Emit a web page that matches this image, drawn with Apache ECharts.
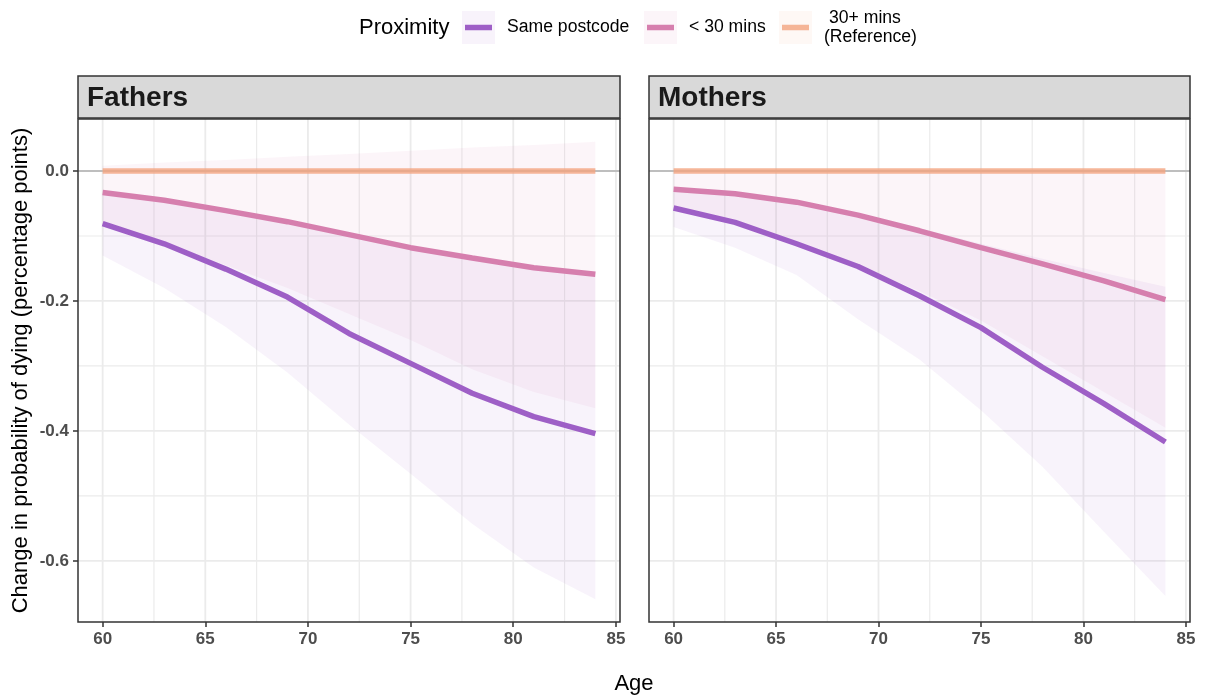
<!DOCTYPE html>
<html>
<head>
<meta charset="utf-8">
<script src="https://cdn.jsdelivr.net/npm/echarts@6/dist/echarts.min.js"></script>
<style>
  html, body { margin: 0; padding: 0; background: #fff; }
  #chart { width: 1205px; height: 700px; }
</style>
</head>
<body>
<div id="chart"></div>
<script>
// ages where the model was evaluated
var ages = [60, 63, 66, 69, 72, 75, 78, 81, 84];

// Fathers
var fathersSame   = [-0.081, -0.112, -0.151, -0.194, -0.250, -0.296, -0.342, -0.378, -0.404];
var fathersSameLo = [-0.130, -0.180, -0.240, -0.310, -0.390, -0.466, -0.543, -0.610, -0.659];
var fathersSameHi = [-0.034, -0.046, -0.061, -0.078, -0.098, -0.118, -0.134, -0.149, -0.160];
var fathersNear   = [-0.033, -0.045, -0.061, -0.078, -0.098, -0.118, -0.134, -0.149, -0.159];
var fathersNearLo = [-0.082, -0.110, -0.145, -0.180, -0.220, -0.260, -0.305, -0.340, -0.365];
var fathersNearHi = [0.008, 0.013, 0.017, 0.022, 0.026, 0.031, 0.036, 0.040, 0.045];

// Mothers
var mothersSame   = [-0.057, -0.079, -0.112, -0.147, -0.192, -0.241, -0.302, -0.358, -0.417];
var mothersSameLo = [-0.086, -0.118, -0.160, -0.228, -0.290, -0.368, -0.455, -0.555, -0.654];
var mothersSameHi = [-0.030, -0.036, -0.048, -0.066, -0.088, -0.112, -0.135, -0.157, -0.178];
var mothersNear   = [-0.028, -0.035, -0.048, -0.068, -0.092, -0.118, -0.143, -0.169, -0.198];
var mothersNearLo = [-0.058, -0.080, -0.110, -0.145, -0.185, -0.230, -0.285, -0.340, -0.395];
var mothersNearHi = [0.001, 0.001, 0.001, 0.001, 0.001, 0.001, 0.001, 0.001, 0.001];

// reference group (30+ mins)
var reference = [0, 0, 0, 0, 0, 0, 0, 0, 0];

// axis ticks and grid
var xTicks = [60, 65, 70, 75, 80, 85];
var xMinor = [62.5, 67.5, 72.5, 77.5, 82.5];
var yTicks = [-0.6, -0.4, -0.2, 0];
var yTickLabels = ['-0.6', '-0.4', '-0.2', '0.0'];
var yMinor = [-0.5, -0.3, -0.1];
var xMin = 58.8, xMax = 85.2, yMin = -0.694, yMax = 0.080;

var FONT = "'Liberation Sans', Arial, sans-serif";
var cSame = '#9e5fc6', cNear = '#d67fae', cRef = '#f3a47f';
var fSame = 'rgba(156,95,198,0.075)', fNear = 'rgba(213,127,176,0.075)', fRef = 'rgba(243,164,127,0.08)';

function gridSeries(idx) {
  return {
    type: 'custom', xAxisIndex: idx, yAxisIndex: idx, z: 1, silent: true,
    data: [[xTicks[0], yTicks[0]]],
    renderItem: function(params, api) {
      var children = [];
      function vline(v, w) {
        var a = api.coord([v, yMin]), b = api.coord([v, yMax]);
        children.push({type: 'line', shape: {x1: a[0], y1: a[1], x2: b[0], y2: b[1]}, style: {stroke: '#ebebeb', lineWidth: w}});
      }
      function hline(v, w) {
        var a = api.coord([xMin, v]), b = api.coord([xMax, v]);
        children.push({type: 'line', shape: {x1: a[0], y1: a[1], x2: b[0], y2: b[1]}, style: {stroke: '#ebebeb', lineWidth: w}});
      }
      xMinor.forEach(function(v) { vline(v, 1.2); });
      yMinor.forEach(function(v) { hline(v, 1.2); });
      xTicks.forEach(function(v) { vline(v, 1.8); });
      yTicks.forEach(function(v) { hline(v, 1.8); });
      return {type: 'group', children: children};
    }
  };
}

function zeroLine(idx) {
  return {
    type: 'custom', xAxisIndex: idx, yAxisIndex: idx, z: 3, silent: true,
    data: [[xMin, 0]],
    renderItem: function(params, api) {
      var a = api.coord([xMin, 0]), b = api.coord([xMax, 0]);
      return {type: 'line', shape: {x1: a[0], y1: a[1], x2: b[0], y2: b[1]}, style: {stroke: '#bebebe', lineWidth: 2}};
    }
  };
}

function ribbon(idx, lo, hi, fill) {
  return {
    type: 'custom', xAxisIndex: idx, yAxisIndex: idx, z: 2, silent: true,
    data: [[ages[0], lo[0]]],
    renderItem: function(params, api) {
      var pts = [];
      for (var i = 0; i < ages.length; i++) pts.push(api.coord([ages[i], hi[i]]));
      for (var j = ages.length - 1; j >= 0; j--) pts.push(api.coord([ages[j], lo[j]]));
      return {type: 'polygon', shape: {points: pts}, style: {fill: fill}};
    }
  };
}

function line(idx, name, vals, color, opacity) {
  return {
    type: 'line', name: name, xAxisIndex: idx, yAxisIndex: idx, z: 4,
    showSymbol: false, symbol: 'none', smooth: false, silent: true,
    data: ages.map(function(a, i) { return [a, vals[i]]; }),
    lineStyle: {color: color, width: 5.5, opacity: opacity, cap: 'butt'}
  };
}

function xAxis(idx) {
  return {
    type: 'value', gridIndex: idx, min: xMin, max: xMax,
    axisLine: {show: false, onZero: false},
    axisTick: {show: true, customValues: xTicks, length: 5, lineStyle: {color: '#333', width: 1.5}},
    axisLabel: {customValues: xTicks, margin: 9, color: '#4d4d4d', fontSize: 17, fontWeight: 'bold', fontFamily: FONT},
    splitLine: {show: false}
  };
}

function yAxis(idx, showLabels) {
  return {
    type: 'value', gridIndex: idx, min: yMin, max: yMax,
    axisLine: {show: false, onZero: false},
    axisTick: {show: showLabels, customValues: yTicks, length: 5, lineStyle: {color: '#333', width: 1.5}},
    axisLabel: {
      show: showLabels, customValues: yTicks, margin: 9, color: '#4d4d4d',
      fontSize: 17, fontWeight: 'bold', fontFamily: FONT,
      formatter: function(v) {
        for (var i = 0; i < yTicks.length; i++) if (Math.abs(v - yTicks[i]) < 1e-9) return yTickLabels[i];
        return '';
      }
    },
    splitLine: {show: false}
  };
}

var panels = [
  {left: 78, width: 542, title: 'Fathers'},
  {left: 649, width: 541, title: 'Mothers'}
];
var gridTop = 119, gridHeight = 503;

var graphics = [];
panels.forEach(function(p) {
  graphics.push({type: 'rect', shape: {x: p.left, y: 76, width: p.width, height: 42},
    style: {fill: '#d9d9d9', stroke: '#333', lineWidth: 1.5}, z: 10});
  graphics.push({type: 'text', x: p.left + 9, y: 98.5, z: 11,
    style: {text: p.title, font: 'bold 28px ' + FONT, fill: '#1a1a1a', textVerticalAlign: 'middle'}});
});

// legend
var legendKeys = [
  {x: 462, stroke: cSame, fill: fSame, opacity: 1},
  {x: 644, stroke: cNear, fill: fNear, opacity: 1},
  {x: 779, stroke: cRef, fill: fRef, opacity: 0.8}
];
graphics.push({type: 'text', x: 359, y: 27.5, style: {text: 'Proximity', font: '22px ' + FONT, fill: '#000', textVerticalAlign: 'middle'}});
legendKeys.forEach(function(k) {
  graphics.push({type: 'rect', shape: {x: k.x, y: 11, width: 33, height: 33}, style: {fill: k.fill}});
  graphics.push({type: 'line', shape: {x1: k.x + 3, y1: 27.5, x2: k.x + 30, y2: 27.5}, style: {stroke: k.stroke, lineWidth: 5.5, opacity: k.opacity}});
});
graphics.push({type: 'text', x: 507, y: 27.5, style: {text: 'Same postcode', font: '17.6px ' + FONT, fill: '#000', textVerticalAlign: 'middle'}});
graphics.push({type: 'text', x: 689, y: 27.5, style: {text: '< 30 mins', font: '17.6px ' + FONT, fill: '#000', textVerticalAlign: 'middle'}});
graphics.push({type: 'text', x: 829, y: 18, style: {text: '30+ mins', font: '17.6px ' + FONT, fill: '#000', textVerticalAlign: 'middle'}});
graphics.push({type: 'text', x: 824, y: 37.5, style: {text: '(Reference)', font: '17.6px ' + FONT, fill: '#000', textVerticalAlign: 'middle'}});

// axis titles
graphics.push({type: 'text', x: 634, y: 684, style: {text: 'Age', font: '22px ' + FONT, fill: '#000', textAlign: 'center', textVerticalAlign: 'middle'}});
graphics.push({type: 'text', x: 21, y: 370.5, rotation: Math.PI / 2,
  style: {text: 'Change in probability of dying (percentage points)', font: '22px ' + FONT, fill: '#000', textAlign: 'center', textVerticalAlign: 'middle'}});

var option = {
  animation: false,
  backgroundColor: '#fff',
  grid: panels.map(function(p) {
    return {left: p.left, top: gridTop, width: p.width, height: gridHeight,
      show: true, borderColor: '#333', borderWidth: 1.5, backgroundColor: 'transparent', z: 5};
  }),
  xAxis: [xAxis(0), xAxis(1)],
  yAxis: [yAxis(0, true), yAxis(1, false)],
  graphic: graphics,
  series: [
    gridSeries(0), gridSeries(1),
    ribbon(0, fathersNearLo, fathersNearHi, fNear),
    ribbon(0, fathersSameLo, fathersSameHi, fSame),
    ribbon(1, mothersNearLo, mothersNearHi, fNear),
    ribbon(1, mothersSameLo, mothersSameHi, fSame),
    zeroLine(0), zeroLine(1),
    line(0, '30+ mins (Reference)', reference, cRef, 0.8),
    line(0, '< 30 mins', fathersNear, cNear, 1),
    line(0, 'Same postcode', fathersSame, cSame, 1),
    line(1, '30+ mins (Reference)', reference, cRef, 0.8),
    line(1, '< 30 mins', mothersNear, cNear, 1),
    line(1, 'Same postcode', mothersSame, cSame, 1)
  ]
};

var myChart = echarts.init(document.getElementById('chart'));
myChart.setOption(option);
</script>
</body>
</html>
